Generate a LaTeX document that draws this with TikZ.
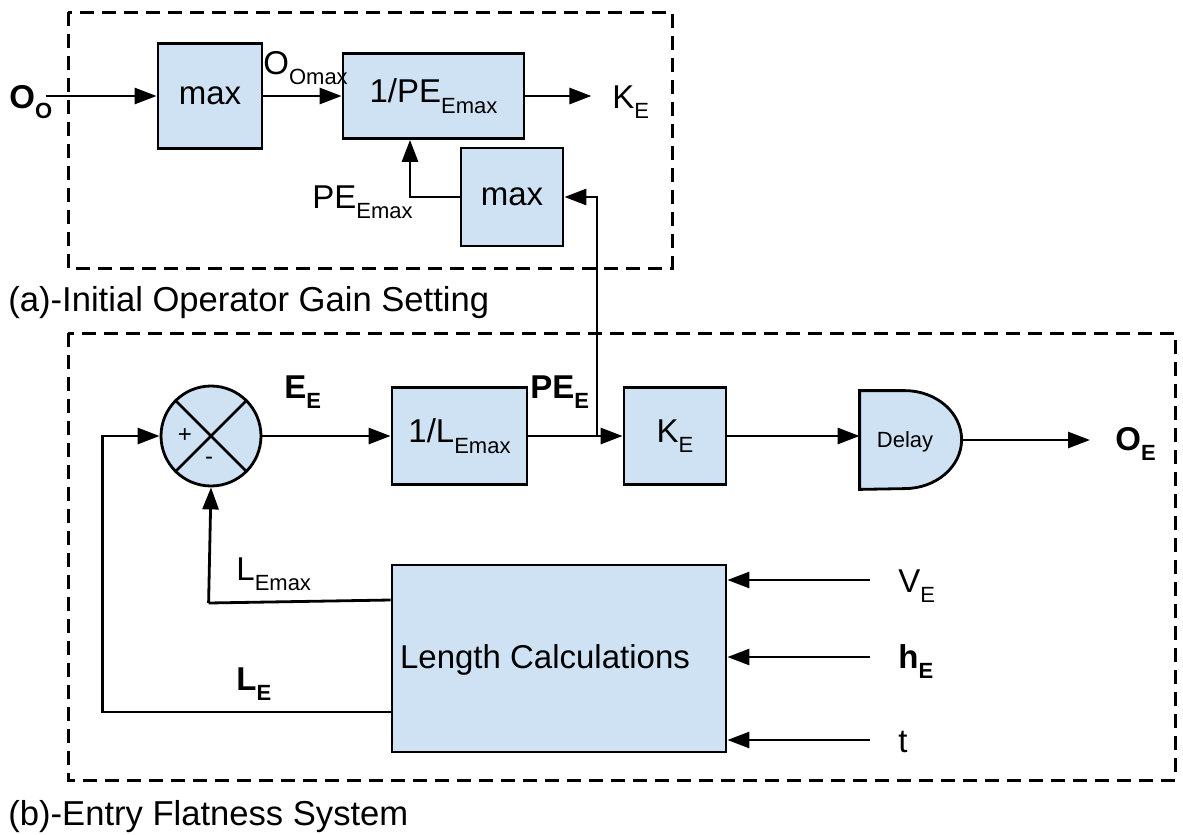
\documentclass[tikz,border=0pt]{standalone}
\usepackage{fontspec}
\setmainfont{Liberation Sans}
\usetikzlibrary{arrows.meta}
\definecolor{boxblue}{HTML}{CFE2F3}
\newcommand\lowsub[1]{\raisebox{-0.6ex}{\fontsize{11}{13}\selectfont #1}}
\begin{document}
\begin{tikzpicture}[x=0.5pt,y=-0.5pt,
  blk/.style={draw, line width=1.4pt, fill=boxblue, inner sep=0pt, font=\fontsize{16.5}{19}\selectfont},
  arr/.style={line width=1.4pt, -{Triangle[length=11pt,width=8pt]}},
  conn/.style={line width=1.4pt},
  dashbox/.style={line width=1.5pt, dash pattern=on 7pt off 4pt},
  lbl/.style={inner sep=0pt, font=\fontsize{16.5}{19}\selectfont},
  caplbl/.style={inner sep=0pt, font=\fontsize{17.3}{20}\selectfont},
]
\useasboundingbox (0,0) rectangle (1183,835);

% dashed frames
\draw[dashbox] (68,12) rectangle (672,268);
\draw[dashbox] (68,333) rectangle (1175,780);
\node[caplbl, anchor=base west] (capa) at (8,311) {(a)-Initial Operator Gain Setting};
\node[caplbl, anchor=base west] (capb) at (8,825) {(b)-Entry Flatness System};

% (a) blocks
\node[blk, minimum width=52pt, minimum height=52.5pt] (b1) at (210,96) {max};
\node[blk, minimum width=90.5pt, minimum height=42.5pt] (b2) at (433.5,96) {1/PE\lowsub{Emax}};
\node[blk, minimum width=51pt, minimum height=49pt] (m3) at (512,197) {max};

\node[lbl, anchor=base west] (oo) at (9,108) {\textbf{O\lowsub{O}}};
\coordinate (oin) at (46,96);
\draw[arr] (oin) -- (b1.west);
\draw[arr] (b1.east) -- (b2.west);
\node[lbl, anchor=base west] (oomax) at (263,74) {O\lowsub{Omax}};
\draw[arr] (b2.east) -- ++(66,0) coordinate (keo);
\node[lbl, anchor=base west] (ke1) at (612,108) {K\lowsub{E}};
\draw[arr] (m3.west) -| ([xshift=-11.75pt]b2.south);
\node[lbl, anchor=base west] (peemax) at (312,208) {PE\lowsub{Emax}};

% (b) blocks
\node[draw, circle, line width=1.4pt, fill=boxblue, minimum size=50pt, inner sep=0pt] (sum) at (211,436) {};
\draw[line width=1.4pt] (sum.north west) -- (sum.south east);
\draw[line width=1.4pt] (sum.north east) -- (sum.south west);
\node[inner sep=0pt, font=\fontsize{12}{14}\selectfont] (plus) at (185,436) {+};
\node[inner sep=0pt, font=\fontsize{12}{14}\selectfont] (minus) at (209,461) {-};

\node[blk, minimum width=67.5pt, minimum height=48.5pt] (bl) at (459.5,436) {1/L\lowsub{Emax}};
\node[blk, minimum width=51pt, minimum height=48.5pt] (bk) at (675,436) {K\lowsub{E}};
\node[minimum width=51pt, minimum height=49pt, inner sep=0pt] (dly) at (911,440) {};
\draw[line width=1.4pt, fill=boxblue] (dly.south west) -- (dly.north west) -- ++(45,0)
  arc[start angle=90, end angle=-90, x radius=28.5pt, y radius=24.5pt] -- cycle;
\node[inner sep=0pt, font=\fontsize{11}{13}\selectfont] (dlytxt) at (905,442) {Delay};

\node[blk, minimum width=167pt, minimum height=93.5pt] (lc) at (559,658.5) {};
\node[lbl] (lctxt) at (545,660) {Length Calculations};

% (b) connectors
\draw[arr] (sum.east) -- (bl.west);
\node[lbl, anchor=base west] (ee) at (284,398) {\textbf{E\lowsub{E}}};
\draw[arr] (bl.east) -- (bk.west);
\coordinate (pej) at (597,436);
\node[lbl, anchor=base west] (pee) at (530,398) {\textbf{PE\lowsub{E}}};
\draw[arr] (pej) |- (m3.east);
\draw[arr] (bk.east) -- (bk.east -| dly.west);
\coordinate (oe) at (1090,440);
\draw[arr] (dly.east) -- (oe);
\node[lbl, anchor=base west] (oet) at (1115,450) {\textbf{O\lowsub{E}}};

\draw[conn] ([yshift=29.25pt]lc.west) -- ++(-182,3) coordinate (lcorner);
\draw[arr] (lcorner) -- (sum.south);
\node[lbl, anchor=base west] (lemax) at (236,580) {L\lowsub{Emax}};
\draw[arr] ([yshift=-26.75pt]lc.west) -- ++(-288,0) |- (sum.west);
\node[lbl, anchor=base west] (le) at (236,690) {\textbf{L\lowsub{E}}};

\coordinate (vin) at (870,580);
\coordinate (hin) at (870,657);
\coordinate (tin) at (870,740);
\draw[arr] (vin) -- (vin -| lc.east);
\draw[arr] (hin) -- (hin -| lc.east);
\draw[arr] (tin) -- (tin -| lc.east);
\node[lbl, anchor=base west] (ve) at (898,592) {V\lowsub{E}};
\node[lbl, anchor=base west] (he) at (898,668) {\textbf{h\lowsub{E}}};
\node[lbl, anchor=base west] (tt) at (898,752) {t};
\end{tikzpicture}
\end{document}
